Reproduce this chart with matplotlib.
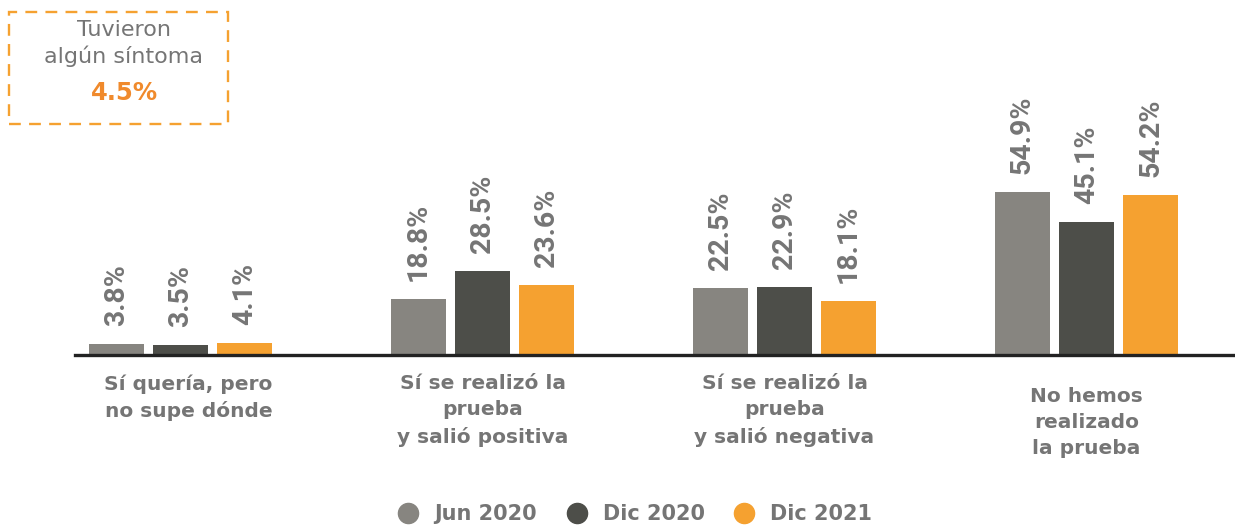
import matplotlib
matplotlib.use("Agg")
import matplotlib.pyplot as plt
from matplotlib.lines import Line2D
from matplotlib.patches import Rectangle
from matplotlib.transforms import blended_transform_factory
import numpy as np

categories = ["Sí quería, pero\nno supe dónde",
              "Sí se realizó la\nprueba\ny salió positiva",
              "Sí se realizó la\nprueba\ny salió negativa",
              "No hemos\nrealizado\nla prueba"]
series_names = ["Jun 2020", "Dic 2020", "Dic 2021"]
jun_2020 = [3.8, 18.8, 22.5, 54.9]
dic_2020 = [3.5, 28.5, 22.9, 45.1]
dic_2021 = [4.1, 23.6, 18.1, 54.2]
box_title = "Tuvieron\nalgún síntoma"
box_value = "4.5%"

colors = ["#878580", "#4d4e49", "#f5a130"]
text_gray = "#757575"

plt.rcParams['font.family'] = ['DejaVu Sans']

W, H = 1235, 527
fig = plt.figure(figsize=(W / 100, H / 100), dpi=100)
base_px = 355
ax = fig.add_axes([75 / W, (H - base_px) / H, (1240 - 75) / W, base_px / H])
ax.set_ylim(0, 355 / 2.96)
group_px = 302.0
x0 = -(180.5 - 75) / group_px
ax.set_xlim(x0, x0 + (1240 - 75) / group_px)

x = np.arange(len(categories))
width = 55 / group_px
offset = 64 / group_px
all_series = [jun_2020, dic_2020, dic_2021]
for i, (vals, col) in enumerate(zip(all_series, colors)):
    xs = x + (i - 1) * offset
    ax.bar(xs, vals, width=width, color=col, zorder=2)
    for xi, v in zip(xs, vals):
        ax.annotate(f"{v:.1f}%", (xi, v), xytext=(0, 18), textcoords="offset pixels",
                    rotation=90, ha="center", va="bottom", fontsize=20.5,
                    fontweight="bold", color=text_gray, family=["Roboto", "DejaVu Sans"])

for s in ["top", "right", "left"]:
    ax.spines[s].set_visible(False)
ax.spines["bottom"].set_color("#222222")
ax.spines["bottom"].set_linewidth(2.4)
ax.set_yticks([])
ax.set_xticks([])

# category labels
trans = blended_transform_factory(ax.transData, fig.transFigure)
label_tops = [374, 374, 374, 387]
label_dx = [8, 0, 0, 0]
for xi, lab, top, dx in zip(x, categories, label_tops, label_dx):
    fig.text(xi + dx / group_px, 1 - top / H, lab, transform=trans, ha="center", va="top",
             fontsize=14.5, fontweight="bold", color=text_gray, linespacing=1.47)

# dashed info box
rect = Rectangle((9 / W, 1 - 124 / H), (228 - 9) / W, (124 - 12) / H,
                 transform=fig.transFigure, fill=False, edgecolor="#f5a130",
                 linestyle=(0, (5, 3.5)), linewidth=1.7)
fig.add_artist(rect)
fig.text(124 / W, 1 - 20 / H, box_title, ha="center", va="top", fontsize=16,
         color=text_gray, linespacing=1.3)
fig.text(125 / W, 1 - 93 / H, box_value, ha="center", va="center", fontsize=17.5,
         fontweight="bold", color="#f08a2c")

# legend
handles = [Line2D([], [], marker="o", linestyle="none", markersize=14.5,
                  markerfacecolor=c, markeredgecolor=c) for c in colors]
leg = fig.legend(handles, series_names, loc="center", bbox_to_anchor=(630 / W, 1 - 514 / H),
                 ncol=3, frameon=False, fontsize=15, handletextpad=0.25, columnspacing=0.9)
for t in leg.get_texts():
    t.set_color(text_gray)
    t.set_fontweight("bold")

fig.savefig("out.png", dpi=100)
